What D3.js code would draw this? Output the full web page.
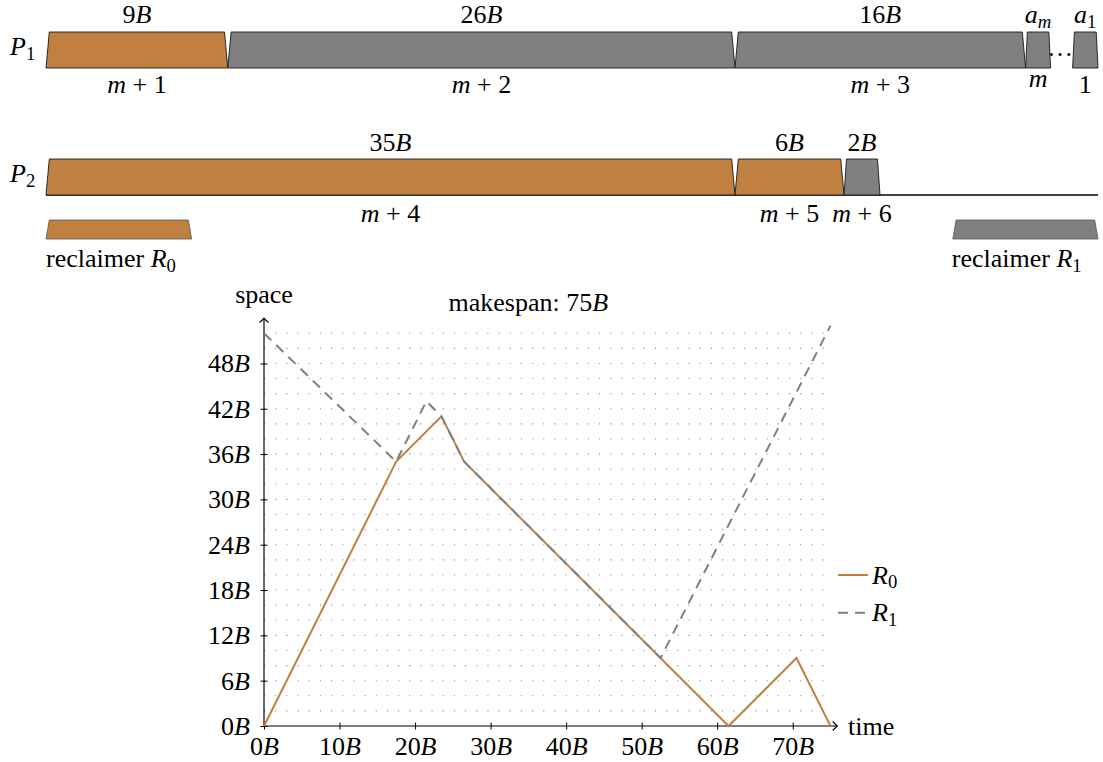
<!DOCTYPE html>
<html>
<head>
<meta charset="utf-8">
<script src="https://cdn.jsdelivr.net/npm/d3@7"></script>
<style>
  body { margin: 0; background: #fff; }
  svg { display: block; }
</style>
</head>
<body>
<svg id="chart" width="1103" height="762" font-family="Liberation Serif" font-size="26"></svg>
<script>
// ---------------- data ----------------
// Schedule diagram (schematic units along the processor time line)
const p1TopLabels = ["9B", "26B", "16B", "a_m", "a_1"];
const p1JobLabels = ["m+1", "m+2", "m+3", "m", "1"];
const p1Starts = [0, 9.09, 34.45, 48.98, 51.33];
const p1Ends = [9.09, 34.45, 48.98, 50.23, 52.6];
const p1Owner = ["R0", "R1", "R1", "R1", "R1"];

const p2TopLabels = ["35B", "6B", "2B"];
const p2JobLabels = ["m+4", "m+5", "m+6"];
const p2Starts = [0, 34.45, 39.9];
const p2Ends = [34.45, 39.9, 41.7];
const p2Owner = ["R0", "R0", "R1"];

const reclaimerNames = ["R_0", "R_1"];
const reclaimerStarts = [0, 45.34];
const reclaimerEnds = [7.28, 52.6];
const scheduleLength = 52.6;

// Space/time chart
const r0Time = [0, 17.5, 23.5, 26.5, 61.5, 70.5, 75];
const r0Space = [0, 35, 41, 35, 0, 9, 0];
const r1Time = [0, 17.5, 21.5, 23.5, 26.5, 52.5, 75];
const r1Space = [52, 35, 43, 41, 35, 9, 53];

const timeTicks = [0, 10, 20, 30, 40, 50, 60, 70];
const timeTickLabels = ["0B", "10B", "20B", "30B", "40B", "50B", "60B", "70B"];
const spaceTicks = [0, 6, 12, 18, 24, 30, 36, 42, 48];
const spaceTickLabels = ["0B", "6B", "12B", "18B", "24B", "30B", "36B", "42B", "48B"];
const gridSpace = d3.range(2, 53, 2);
const makespanLabel = "75B";
const seriesNames = ["R_0", "R_1"];

// ---------------- styles ----------------
const FONT = "Liberation Serif";
const FS = 26;
const COLORS = { R0: "#c08040", R1: "#808080" };
const svg = d3.select("#chart");
svg.append("rect").attr("width", 1103).attr("height", 762).attr("fill", "#fff");

// ---------------- text helpers ----------------
function txt(parent) {
  return parent.append("text").attr("font-family", FONT).attr("font-size", FS).attr("fill", "#000");
}
function parseMath(s) {
  const out = [];
  let i = 0;
  while (i < s.length) {
    const c = s[i];
    if (c === "_") {
      const d = s[i + 1];
      out.push([d, /[A-Za-z]/.test(d) ? "si" : "s"]);
      i += 2; continue;
    }
    if (/[A-Za-z]/.test(c)) out.push([c, "i"]);
    else if (c === "+") out.push(["\u00a0+\u00a0", "n"]);
    else out.push([c, "n"]);
    i++;
  }
  return out;
}
function rich(textSel, parts) {
  let shifted = false;
  textSel.attr("font-family", FONT).attr("font-size", FS).attr("fill", "#000");
  parts.forEach(([t, st]) => {
    const sp = textSel.append("tspan").text(t);
    if (st === "i" || st === "si") sp.attr("font-style", "italic");
    if (st[0] === "s") {
      sp.attr("font-size", FS * 0.72);
      if (!shifted) { sp.attr("dy", 4.5); shifted = true; }
    } else if (shifted) { sp.attr("dy", -4.5); shifted = false; }
  });
  return textSel;
}

// ---------------- schedule diagram ----------------
const sx = d3.scaleLinear().domain([0, scheduleLength]).range([46, 1098]);

function trapezoid(a, b, yTop, yBot) {
  const w = sx(b) - sx(a);
  const inset = Math.min(3.3, w * 0.07);
  return `M${sx(a)},${yBot}L${sx(a) + inset},${yTop}L${sx(b) - inset},${yTop}L${sx(b)},${yBot}Z`;
}

function drawRow(name, starts, ends, owners, tops, jobs, yTop, yBot, topGap, botGap) {
  const g = svg.append("g");
  const rows = starts.map((s, i) => ({ s, e: ends[i], o: owners[i], top: tops[i], job: jobs[i] }));
  g.selectAll("path.job").data(rows).join("path")
    .attr("class", "job")
    .attr("d", d => trapezoid(d.s, d.e, yTop, yBot))
    .attr("fill", d => COLORS[d.o])
    .attr("stroke", "#1a1a1a").attr("stroke-width", 0.9).attr("stroke-linejoin", "miter");
  g.selectAll("text.top").data(rows).join("text")
    .attr("class", "top")
    .attr("x", d => sx((d.s + d.e) / 2))
    .attr("y", yTop - topGap)
    .attr("text-anchor", "middle")
    .each(function (d) { rich(d3.select(this), parseMath(d.top)); });
  g.selectAll("text.job").data(rows).join("text")
    .attr("class", "job")
    .attr("x", d => sx((d.s + d.e) / 2))
    .attr("y", d => yBot + botGap - (/[0-9A-Zbdfhklt]/.test(d.job) ? 0 : 6))
    .attr("text-anchor", "middle")
    .each(function (d) { rich(d3.select(this), parseMath(d.job)); });
  rich(g.append("text").attr("x", 10).attr("y", (yTop + yBot) / 2 + 5), parseMath(name));
  return g;
}

// P1
drawRow("P_1", p1Starts, p1Ends, p1Owner, p1TopLabels, p1JobLabels, 32, 68, 9, 25);
// ellipsis between a_m and a_1
txt(svg)
  .attr("x", sx((p1Ends[3] + p1Starts[4]) / 2) - 1.5)
  .attr("y", 56)
  .attr("text-anchor", "middle")
  .text("\u2026");

// P2 baseline then bars
svg.append("line")
  .attr("x1", sx(0)).attr("x2", sx(scheduleLength))
  .attr("y1", 195).attr("y2", 195)
  .attr("stroke", "#000").attr("stroke-width", 1.3);
drawRow("P_2", p2Starts, p2Ends, p2Owner, p2TopLabels, p2JobLabels, 159, 195, 8.3, 26.7);

// reclaimers
reclaimerNames.forEach((nm, i) => {
  svg.append("path")
    .attr("d", trapezoid(reclaimerStarts[i], reclaimerEnds[i], 220, 239))
    .attr("fill", i === 0 ? COLORS.R0 : COLORS.R1)
    .attr("stroke", "#555").attr("stroke-width", 0.8);
  const t = svg.append("text").attr("x", sx(reclaimerStarts[i]) + (i === 0 ? 0 : -1)).attr("y", 267);
  rich(t, [["reclaimer\u00a0", "n"]].concat(parseMath(nm)));
});

// ---------------- space/time chart ----------------
const x = d3.scaleLinear().domain([0, 75]).range([264, 830.5]);
const y = d3.scaleLinear().domain([0, 52]).range([726, 726 - 52 * 7.553]);

// dotted grid
svg.append("g").selectAll("line").data(gridSpace).join("line")
  .attr("x1", x(0)).attr("x2", x(75))
  .attr("y1", d => y(d)).attr("y2", d => y(d))
  .attr("stroke", "#8a8a8a").attr("stroke-width", 1.1)
  .attr("stroke-dasharray", "1.1,10.07");

// axes lines with arrows
const axisG = svg.append("g");
axisG.append("line").attr("x1", x(0)).attr("x2", x(75.9)).attr("y1", y(0)).attr("y2", y(0))
  .attr("stroke", "#000").attr("stroke-width", 1.2);
axisG.append("line").attr("x1", x(0)).attr("x2", x(0)).attr("y1", y(0)).attr("y2", y(54))
  .attr("stroke", "#000").attr("stroke-width", 1.2);
axisG.append("path")
  .attr("d", `M${x(75.9) - 4.5},${y(0) - 4.5}Q${x(75.9) - 1},${y(0) - 0.8} ${x(75.9)},${y(0)}Q${x(75.9) - 1},${y(0) + 0.8} ${x(75.9) - 4.5},${y(0) + 4.5}`)
  .attr("fill", "none").attr("stroke", "#000").attr("stroke-width", 1.1);
axisG.append("path")
  .attr("d", `M${x(0) - 4.5},${y(54) + 4.5}Q${x(0) - 0.8},${y(54) + 1} ${x(0)},${y(54)}Q${x(0) + 0.8},${y(54) + 1} ${x(0) + 4.5},${y(54) + 4.5}`)
  .attr("fill", "none").attr("stroke", "#000").attr("stroke-width", 1.1);

// x axis ticks
const gx = svg.append("g").attr("transform", `translate(0,${y(0)})`)
  .call(d3.axisBottom(x).tickValues(timeTicks).tickSizeInner(3.5).tickSizeOuter(0).tickFormat(""));
gx.attr("font-size", null).attr("font-family", null);
gx.select(".domain").remove();
gx.selectAll(".tick line").attr("y1", -3.5).attr("y2", 3.5).attr("stroke", "#000").attr("stroke-width", 1);
gx.selectAll(".tick text").remove();
gx.selectAll(".tick").each(function (d, i) {
  const t = d3.select(this).append("text").attr("y", 29).attr("text-anchor", "middle");
  rich(t, parseMath(timeTickLabels[i]));
});

// y axis ticks
const gy = svg.append("g").attr("transform", `translate(${x(0)},0)`)
  .call(d3.axisLeft(y).tickValues(spaceTicks).tickSizeInner(3.5).tickSizeOuter(0).tickFormat(""));
gy.attr("font-size", null).attr("font-family", null);
gy.select(".domain").remove();
gy.selectAll(".tick line").attr("x1", -3.5).attr("x2", 3.5).attr("stroke", "#000").attr("stroke-width", 1);
gy.selectAll(".tick text").remove();
gy.selectAll(".tick").each(function (d, i) {
  const t = d3.select(this).append("text").attr("x", -14).attr("y", 8.5).attr("text-anchor", "end");
  rich(t, parseMath(spaceTickLabels[i]));
});

// series
const line = d3.line().x(d => x(d[0])).y(d => y(d[1]));
svg.append("path").datum(d3.zip(r0Time, r0Space))
  .attr("d", line).attr("fill", "none")
  .attr("stroke", COLORS.R0).attr("stroke-width", 2);
svg.append("path").datum(d3.zip(r1Time, r1Space))
  .attr("d", line).attr("fill", "none")
  .attr("stroke", COLORS.R1).attr("stroke-width", 2)
  .attr("stroke-dasharray", "10,7");

// axis labels & title
txt(svg).attr("x", x(0)).attr("y", 303).attr("text-anchor", "middle").text("space");
txt(svg).attr("x", 848).attr("y", 735).text("time");
rich(svg.append("text").attr("x", x(35)).attr("y", 310.5).attr("text-anchor", "middle"),
  [["makespan:\u00a0", "n"]].concat(parseMath(makespanLabel)));

// legend
const legendY = [575, 612.7];
seriesNames.forEach((nm, i) => {
  svg.append("line").attr("x1", 838).attr("x2", 868).attr("y1", legendY[i]).attr("y2", legendY[i])
    .attr("stroke", i === 0 ? COLORS.R0 : COLORS.R1).attr("stroke-width", 2)
    .attr("stroke-dasharray", i === 0 ? null : "10,7");
  rich(svg.append("text").attr("x", 872).attr("y", legendY[i] + 8.5), parseMath(nm));
});
</script>
</body>
</html>
